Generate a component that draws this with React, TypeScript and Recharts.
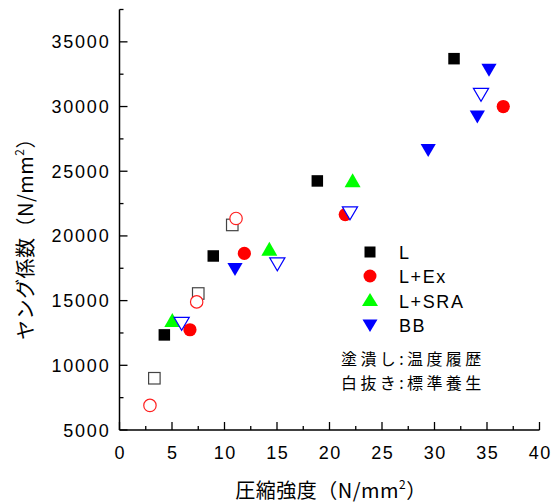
import React from 'react';
import { ScatterChart, Scatter, XAxis, YAxis } from 'recharts';

// L (filled = 温度履歴, open = 標準養生)
const L_FILLED = [
  { x: 4.27, y: 12350 },
  { x: 8.93, y: 18450 },
  { x: 18.84, y: 24250 },
  { x: 31.86, y: 33700 },
];
const L_OPEN = [
  { x: 3.32, y: 9000 },
  { x: 7.5, y: 15550 },
  { x: 10.74, y: 20850 },
];
// L+Ex
const LEX_FILLED = [
  { x: 6.71, y: 12750 },
  { x: 11.89, y: 18650 },
  { x: 21.5, y: 21650 },
  { x: 36.55, y: 30000 },
];
const LEX_OPEN = [
  { x: 2.9, y: 6900 },
  { x: 7.35, y: 14900 },
  { x: 11.1, y: 21350 },
];
// L+SRA
const LSRA_FILLED = [
  { x: 5.03, y: 13500 },
  { x: 14.27, y: 19000 },
  { x: 22.2, y: 24300 },
];
// BB
const BB_FILLED = [
  { x: 11.0, y: 17400 },
  { x: 29.4, y: 26600 },
  { x: 34.08, y: 29200 },
  { x: 35.19, y: 32800 },
];
const BB_OPEN = [
  { x: 5.92, y: 13200 },
  { x: 15.03, y: 17800 },
  { x: 21.95, y: 21750 },
  { x: 34.43, y: 30900 },
];

const X_TICKS = [0, 2.5, 5, 7.5, 10, 12.5, 15, 17.5, 20, 22.5, 25, 27.5, 30, 32.5, 35, 37.5, 40];
const Y_TICKS = [5000, 7500, 10000, 12500, 15000, 17500, 20000, 22500, 25000, 27500, 30000, 32500, 35000, 37500];

const LEGEND_ITEMS = ['L', 'L+Ex', 'L+SRA', 'BB'];
const NOTE_LINES = ['塗潰し:温度履歴', '白抜き:標準養生'];
const X_TITLE = '圧縮強度（N/mm';
const Y_TITLE = 'ヤング係数（N/mm';

const W = 557;
const H = 504;
const NUM_FONT = '"Liberation Sans", Arial, sans-serif';
const JP_FONT = '"Noto Sans CJK JP", "Noto Sans", sans-serif';

function XTick(props: any) {
  const { x, y, payload } = props;
  const v = payload.value;
  const major = v % 5 === 0;
  return (
    <g>
      <line x1={x} x2={x} y1={y} y2={y - (major ? 8 : 4)} stroke="#000" strokeWidth={1.3} />
      {major && (
        <text x={x + 0.8} y={y + 29} textAnchor="middle" fontSize={18} fontFamily={NUM_FONT} letterSpacing={1.6} fill="#000">
          {v}
        </text>
      )}
    </g>
  );
}

function YTick(props: any) {
  const { x, y, payload } = props;
  const v = payload.value;
  const major = v % 5000 === 0;
  return (
    <g>
      <line x1={x} x2={x + (major ? 8 : 4)} y1={y} y2={y} stroke="#000" strokeWidth={1.3} />
      {major && (
        <text x={x - 9} y={y + 6.5} textAnchor="end" fontSize={18} fontFamily={NUM_FONT} letterSpacing={1.8} fill="#000">
          {v}
        </text>
      )}
    </g>
  );
}

const squareShape = (fill: string, stroke: string) => (p: any) => (
  <rect x={p.cx - 5.75} y={p.cy - 5.75} width={11.5} height={11.5} fill={fill} stroke={stroke} strokeWidth={fill === '#fff' ? 1.2 : 0} />
);
const circleShape = (fill: string, stroke: string) => (p: any) => (
  <circle cx={p.cx} cy={p.cy} r={fill === '#fff' ? 6.2 : 6.6} fill={fill} stroke={stroke} strokeWidth={fill === '#fff' ? 1.2 : 0} />
);
const upTriShape = (fill: string) => (p: any) => (
  <polygon
    points={`${p.cx - 8},${p.cy + 7} ${p.cx + 8},${p.cy + 7} ${p.cx},${p.cy - 7}`}
    fill={fill}
  />
);
const downTriShape = (fill: string, stroke: string) => (p: any) => (
  <polygon
    points={`${p.cx - 7.6},${p.cy - 6.5} ${p.cx + 7.6},${p.cy - 6.5} ${p.cx},${p.cy + 6.5}`}
    fill={fill}
    stroke={stroke}
    strokeWidth={fill === '#fff' ? 1.2 : 0}
  />
);

export default function App() {
  return (
    <div style={{ position: 'absolute', left: 0, top: 0, width: W, height: H, background: '#fff' }}>
      <ScatterChart width={W} height={H} margin={{ top: 9.5, right: 17.5, bottom: 0, left: 0 }}>
        <XAxis
          type="number"
          dataKey="x"
          domain={[0, 40]}
          ticks={X_TICKS}
          interval={0}
          height={74}
          tickSize={0}
          tickMargin={0}
          tickLine={false}
          axisLine={{ stroke: '#000', strokeWidth: 1.5 }}
          tick={<XTick />}
          allowDataOverflow
        />
        <YAxis
          type="number"
          dataKey="y"
          domain={[5000, 37500]}
          ticks={Y_TICKS}
          interval={0}
          width={119.5}
          tickSize={0}
          tickMargin={0}
          tickLine={false}
          axisLine={{ stroke: '#000', strokeWidth: 1.5 }}
          tick={<YTick />}
          allowDataOverflow
        />
        <Scatter name="L" data={L_FILLED} shape={squareShape('#000', '#000')} isAnimationActive={false} />
        <Scatter name="L+Ex" data={LEX_FILLED} shape={circleShape('#ff0000', '#ff0000')} isAnimationActive={false} />
        <Scatter name="L+SRA" data={LSRA_FILLED} shape={upTriShape('#00ff00')} isAnimationActive={false} />
        <Scatter name="BB" data={BB_FILLED} shape={downTriShape('#0000ff', '#0000ff')} isAnimationActive={false} />
        <Scatter name="L open" data={L_OPEN} shape={squareShape('#fff', '#444')} isAnimationActive={false} />
        <Scatter name="L+Ex open" data={LEX_OPEN} shape={circleShape('#fff', '#ff2020')} isAnimationActive={false} />
        <Scatter name="BB open" data={BB_OPEN} shape={downTriShape('#fff', '#0000ff')} isAnimationActive={false} />
      </ScatterChart>
      <svg width={W} height={H} style={{ position: 'absolute', left: 0, top: 0, pointerEvents: 'none' }}>
        {/* legend */}
        <rect x={364.5} y={246.5} width={11} height={11} fill="#000" />
        <circle cx={370} cy={276} r={6.5} fill="#ff0000" />
        <polygon points="362,306 378,306 370,293" fill="#00ff00" />
        <polygon points="362.5,319.5 377.5,319.5 370,332" fill="#0000ff" />
        {LEGEND_ITEMS.map((t, i) => (
          <text key={t} x={399} y={252 + i * 24.6 + 6.5} fontSize={18} fontFamily={NUM_FONT} letterSpacing={1.6} fill="#000">
            {t}
          </text>
        ))}
        {NOTE_LINES.map((t, i) => (
          <text key={t} x={341} y={359 + i * 24 + 6} fontSize={16} fontFamily={JP_FONT} letterSpacing={3.4} fill="#000">
            {t}
          </text>
        ))}
        {/* axis titles */}
        <text x={331} y={498} textAnchor="middle" fontSize={20} fontFamily={JP_FONT} letterSpacing={0.5} fill="#000">
          {X_TITLE}
          <tspan fontSize={12} dy={-9}>2</tspan>
          <tspan dy={9}>）</tspan>
        </text>
        <text
          transform="translate(33,234) rotate(-90)"
          textAnchor="middle"
          fontSize={20}
          fontFamily={JP_FONT}
          letterSpacing={0.5}
          fill="#000"
        >
          {Y_TITLE}
          <tspan fontSize={12} dy={-9}>2</tspan>
          <tspan dy={9}>）</tspan>
        </text>
      </svg>
    </div>
  );
}
